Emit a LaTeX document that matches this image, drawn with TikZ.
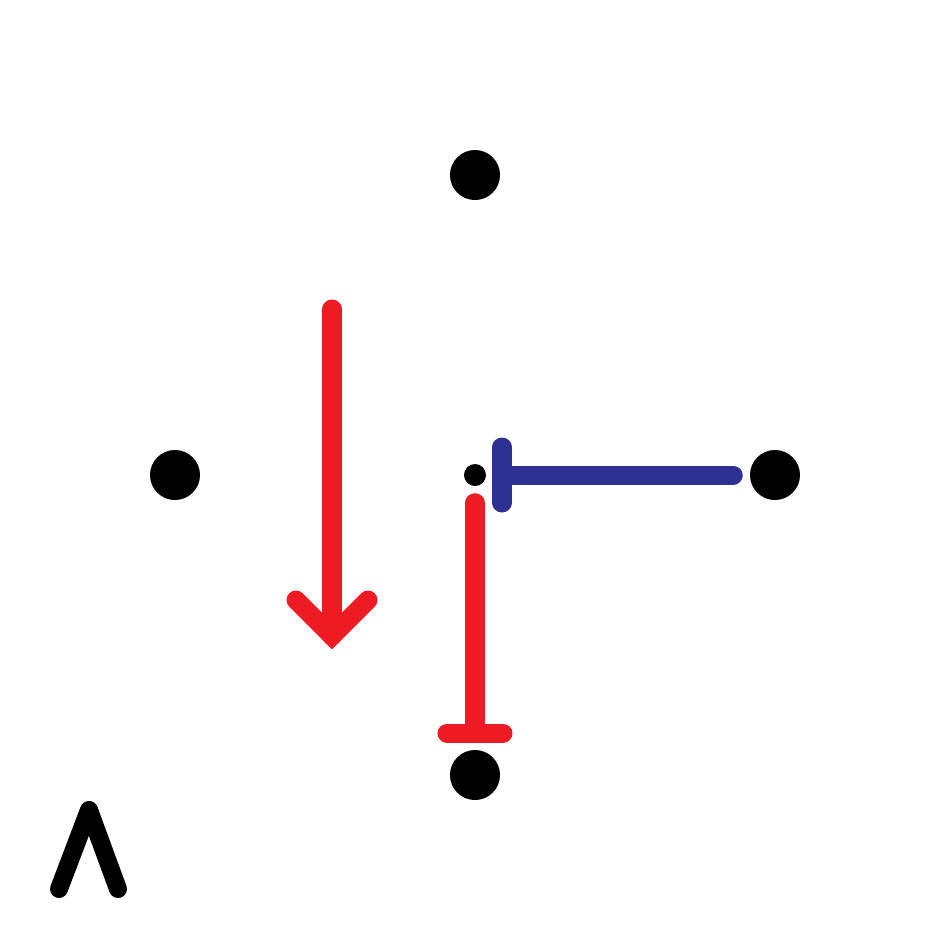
\documentclass[tikz,border=0pt]{standalone}
\usetikzlibrary{positioning}
\definecolor{actred}{HTML}{ED1C24}
\definecolor{inhblue}{HTML}{2E3192}
\tikzset{
  dot/.style={circle,fill=black,inner sep=0pt,minimum size=0.5cm},
  smalldot/.style={circle,fill=black,inner sep=0pt,minimum size=0.22cm},
  thickline/.style={line width=0.19cm,line cap=round},
}
\begin{document}
\begin{tikzpicture}[x=0.01cm,y=-0.01cm]
\useasboundingbox (0,0) rectangle (950,950);
\node[dot] (top) at (475,175) {};
\node[dot] (left) at (175,475) {};
\node[dot] (right) at (775,475) {};
\node[dot] (bot) at (475,775) {};
\node[smalldot] (ctr) at (475,475) {};
% blue inhibition
\draw[thickline,inhblue,shorten <=0.16cm,shorten >=0.16cm] (right) -- (ctr);
\coordinate (bluebar) at (502,475);
\draw[thickline,inhblue] (bluebar) ++(0,-28) -- ++(0,56);
% red inhibition
\draw[thickline,actred,shorten <=0.16cm,shorten >=0.17cm] (ctr) -- (bot);
\coordinate (redbar) at (475,733);
\draw[thickline,actred] (redbar) ++(-28,0) -- ++(56,0);
% red arrow
\coordinate (arrtop) at (332,309);
\coordinate (arrtip) at (332,636);
\draw[thickline,actred] (arrtop) -- (arrtip);
\draw[thickline,actred,line join=miter] (arrtip) ++(-36,-36) -- (arrtip) -- ++(36,-36);
% wedge
\draw[line width=0.18cm,line cap=round,line join=round] (59,889) -- (89,810) -- (118,889);
\end{tikzpicture}
\end{document}
